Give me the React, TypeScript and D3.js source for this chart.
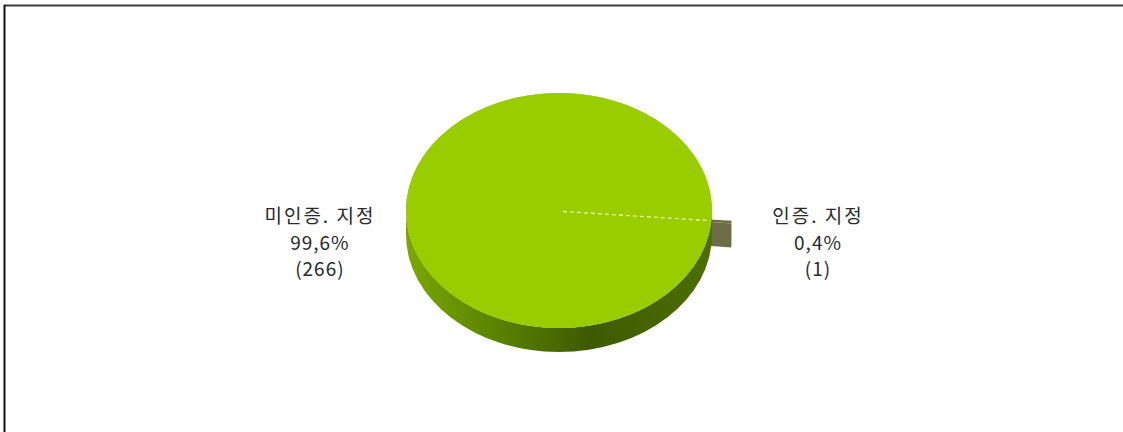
import React from 'react';
import * as d3 from 'd3';

// Data
const categories: string[] = ['인증. 지정', '미인증. 지정'];
const values: number[] = [1, 266];
const topColors: string[] = ['#6d6d48', '#9acd00'];
const sideColors: string[] = ['#6d6d48', '#557a00'];
const exploded: boolean[] = [true, false];

export default function App() {
  const W = 1123, H = 432;
  const cx = 559, cy = 210.5, rx = 153, ry = 117.5, depth = 24, explode = 20;
  const startDeg = 94.3;
  const a0 = (startDeg * Math.PI) / 180;
  const pie = d3.pie<number>().sort(null).value((d) => d).startAngle(a0).endAngle(a0 + 2 * Math.PI);
  const arcs = pie(values);
  const arcGen = d3.arc<d3.PieArcDatum<number>>().innerRadius(0).outerRadius(rx);
  const total = d3.sum(values);
  const fmtPct = (v: number) => d3.format('.1f')((v / total) * 100).replace('.', ',') + '%';
  const sy = ry / rx;
  const ex = (a: number) => Math.sin(a) * rx;
  const ey = (a: number) => -Math.cos(a) * ry;

  const small = arcs[0];
  const sm = (small.startAngle + small.endAngle) / 2;
  const sdx = Math.sin(sm) * explode;
  const sdy = -Math.cos(sm) * explode * sy;
  const scx = cx + sdx, scy = cy + sdy;
  const e = small.endAngle;
  const radialFace = [
    [scx, scy],
    [scx + ex(e), scy + ey(e)],
    [scx + ex(e), scy + ey(e) + depth],
    [scx, scy + depth],
  ];
  const s0 = small.startAngle;
  const outerSide = `M${scx + ex(s0)},${scy + ey(s0)} A${rx},${ry} 0 0 1 ${scx + ex(e)},${scy + ey(e)} L${scx + ex(e)},${scy + ey(e) + depth} A${rx},${ry} 0 0 0 ${scx + ex(s0)},${scy + ey(s0) + depth} Z`;

  const band = `M${cx + rx},${cy} A${rx},${ry} 0 0 1 ${cx - rx},${cy} L${cx - rx},${cy + depth} A${rx},${ry} 0 0 0 ${cx + rx},${cy + depth} Z`;

  const labelR = 240;
  const lineGap = 26.5;

  return (
    <svg width={W} height={H} style={{ position: 'absolute', left: 0, top: 0, background: '#fff' }}>
      <defs>
        <linearGradient id="band" gradientUnits="userSpaceOnUse" x1={cx - rx} y1={0} x2={cx + rx} y2={0}>
          <stop offset="0" stopColor="#7aa800" />
          <stop offset="0.3" stopColor="#5a8200" />
          <stop offset="0.6" stopColor="#3e5a00" />
          <stop offset="1" stopColor="#4d6e00" />
        </linearGradient>
      </defs>
      <rect x={0} y={0} width={W} height={H} fill="#fff" />
      {/* frame */}
      <line x1={4} y1={5.5} x2={W} y2={5.5} stroke="#3a3a3a" strokeWidth={2} />
      <line x1={4.5} y1={5} x2={4.5} y2={H} stroke="#111" strokeWidth={2} />

      {/* exploded small slice */}
      <polygon points={radialFace.map((p) => p.join(',')).join(' ')} fill={sideColors[0]} />
      <path d={outerSide} fill={sideColors[0]} />
      <path d={arcGen(small) || ''} transform={`translate(${scx},${scy}) scale(1,${sy})`} fill={topColors[0]} />

      {/* main pie side */}
      <path d={band} fill="url(#band)" />
      {/* main pie top (gap filled) */}
      <ellipse cx={cx} cy={cy} rx={rx} ry={ry} fill={topColors[1]} />
      <path d={arcGen(arcs[1]) || ''} transform={`translate(${cx},${cy}) scale(1,${sy})`} fill={topColors[1]} />
      {/* pale seam where the small slice was pulled out */}
      <line
        x1={cx + 4}
        y1={cy + 1}
        x2={cx + ex(sm) - 1}
        y2={cy + ey(sm)}
        stroke="#eef39a"
        strokeWidth={1.3}
        strokeDasharray="4,3"
      />

      {/* labels */}
      {arcs.map((a, i) => {
        const m = (a.startAngle + a.endAngle) / 2;
        const x = cx + Math.sin(m) * labelR + (exploded[i] ? Math.sin(m) * explode : 0);
        const y = cy + 30.5;
        return (
          <g key={i} fontFamily="'Noto Sans CJK KR', sans-serif" fontSize={19} fill="#2a2a2a" textAnchor="middle">
            <text x={x} y={y - lineGap} dominantBaseline="central" letterSpacing={2}>{categories[i]}</text>
            <text x={x} y={y} dominantBaseline="central" letterSpacing={1}>{fmtPct(values[i])}</text>
            <text x={x} y={y + lineGap} dominantBaseline="central" letterSpacing={1}>({values[i]})</text>
          </g>
        );
      })}
    </svg>
  );
}
